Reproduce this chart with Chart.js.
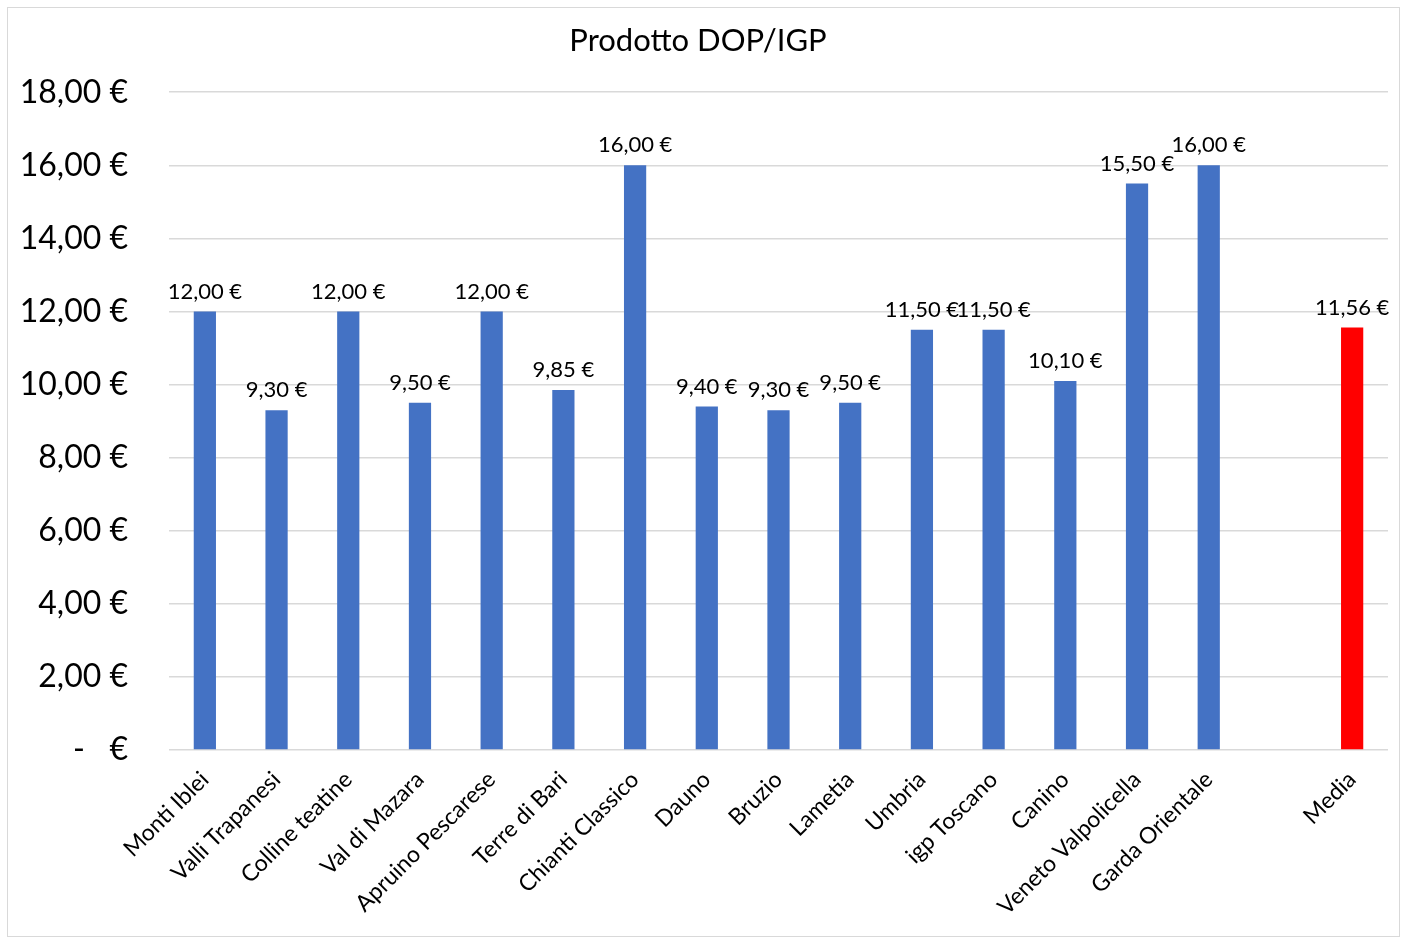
<!DOCTYPE html>
<html>
<head>
<meta charset="utf-8">
<script src="https://cdn.jsdelivr.net/npm/chart.js@4.4.1/dist/chart.umd.min.js"></script>
<style>
  html, body { margin: 0; padding: 0; background: #fff; }
  #wrap { position: absolute; left: 7px; top: 7px; width: 1391px; height: 928px; border: 1px solid #d9d9d9; }
  canvas { display: block; }
</style>
</head>
<body>
<div id="wrap"><canvas id="c" width="1391" height="928"></canvas></div>
<script>
const categories = ["Monti Iblei", "Valli Trapanesi", "Colline teatine", "Val di Mazara", "Apruino Pescarese", "Terre di Bari", "Chianti Classico", "Dauno", "Bruzio", "Lametia", "Umbria", "igp Toscano", "Canino", "Veneto Valpolicella", "Garda Orientale", "", "Media"];
const prices = [12.00, 9.30, 12.00, 9.50, 12.00, 9.85, 16.00, 9.40, 9.30, 9.50, 11.50, 11.50, 10.10, 15.50, 16.00, null, 11.56];
const barColors = ["#4472C4","#4472C4","#4472C4","#4472C4","#4472C4","#4472C4","#4472C4","#4472C4","#4472C4","#4472C4","#4472C4","#4472C4","#4472C4","#4472C4","#4472C4","#4472C4","#FF0000"];
const yTicks = [0, 2, 4, 6, 8, 10, 12, 14, 16, 18];

const FONT = "Lato, 'Open Sans', sans-serif";
function euro(v) {
  if (v === 0) return "-   €";
  return v.toFixed(2).replace('.', ',') + " €";
}

const valueLabels = {
  id: 'valueLabels',
  afterDatasetsDraw(chart) {
    const ctx = chart.ctx;
    const meta = chart.getDatasetMeta(0);
    ctx.save();
    ctx.font = "22px " + FONT;
    ctx.fillStyle = "#000";
    ctx.textAlign = "center";
    ctx.textBaseline = "middle";
    meta.data.forEach((bar, i) => {
      const v = prices[i];
      if (v === null || v === undefined) return;
      ctx.fillText(euro(v), bar.x, bar.y - 20);
    });
    ctx.restore();
  }
};

new Chart(document.getElementById('c'), {
  type: 'bar',
  data: {
    labels: categories,
    datasets: [{
      data: prices,
      backgroundColor: barColors,
      barPercentage: 0.31,
      categoryPercentage: 1.0
    }]
  },
  options: {
    responsive: false,
    animation: false,
    layout: { padding: { left: 0, right: 11, top: 0, bottom: 0 } },
    plugins: {
      legend: { display: false },
      tooltip: { enabled: false },
      title: {
        display: true,
        text: "Prodotto DOP/IGP",
        color: "#000",
        font: { family: FONT, size: 31, weight: 'normal' },
        padding: { top: 14, bottom: 33 }
      }
    },
    scales: {
      x: {
        grid: { display: false, drawTicks: false },
        border: { display: false },
        ticks: {
          color: "#000",
          font: { family: FONT, size: 23 },
          minRotation: 45,
          maxRotation: 45,
          autoSkip: false,
          padding: 16
        },
        afterFit(scale) { scale.height = 186; }
      },
      y: {
        min: 0,
        max: 18,
        afterBuildTicks(scale) { scale.ticks = yTicks.map(v => ({ value: v })); },
        grid: { color: "#d9d9d9", lineWidth: 1.5, drawTicks: false },
        border: { display: false },
        ticks: {
          color: "#000",
          font: { family: FONT, size: 32 },
          padding: 41,
          callback: (v) => euro(v)
        },
        afterFit(scale) { scale.width = 161; }
      }
    }
  },
  plugins: [valueLabels]
});
</script>
</body>
</html>
